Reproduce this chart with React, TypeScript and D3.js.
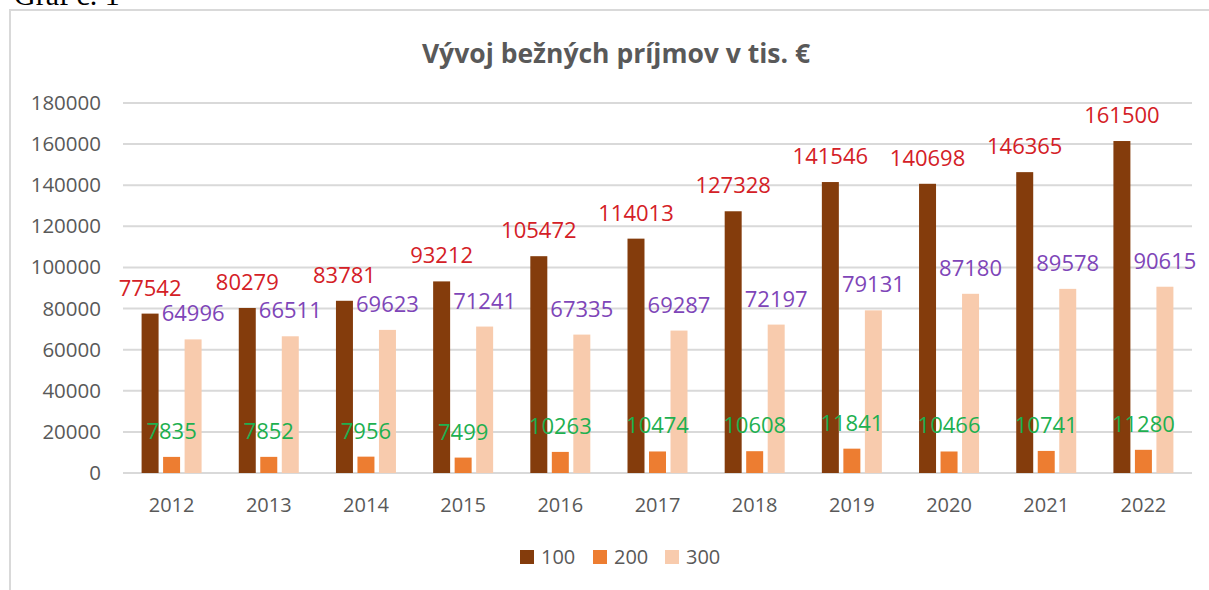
import React from "react";
import * as d3 from "d3";

const years = ["2012", "2013", "2014", "2015", "2016", "2017", "2018", "2019", "2020", "2021", "2022"];
const series = ["100", "200", "300"];
const values100 = [77542, 80279, 83781, 93212, 105472, 114013, 127328, 141546, 140698, 146365, 161500];
const values200 = [7835, 7852, 7956, 7499, 10263, 10474, 10608, 11841, 10466, 10741, 11280];
const values300 = [64996, 66511, 69623, 71241, 67335, 69287, 72197, 79131, 87180, 89578, 90615];
const yTicks = [0, 20000, 40000, 60000, 80000, 100000, 120000, 140000, 160000, 180000];

const barColors = ["#843C0C", "#ED7D31", "#F8CBAD"];
const labelColors = ["#D42026", "#1DB050", "#7E45B8"];

const W = 1209;
const H = 590;
const FONT = "'Open Sans', 'DejaVu Sans', sans-serif";

export default function App() {
  const allValues = [values100, values200, values300];

  const x = d3.scaleBand().domain(years).range([123, 1192]).padding(0);
  const y = d3.scaleLinear().domain([0, 180000]).range([473, 103]);

  // bars inside a year group
  const inner = d3.scaleBand().domain(series).range([-30, 30]).paddingInner(0.21);

  const legendX = [520, 593, 665];

  return (
    <svg width={W} height={H} style={{ position: "absolute", left: 0, top: 0, background: "#fff" }}>
      <text x={14} y={5} fontFamily="'Liberation Serif', serif" fontSize={30} fill="#000">
        Graf č. 1
      </text>

      {/* chart frame, runs off the page on the right and bottom */}
      <rect x={10} y={10} width={1260} height={640} fill="#fff" stroke="#d9d9d9" strokeWidth={2} />

      <text x={616} y={63} textAnchor="middle" fontFamily={FONT} fontWeight="bold" fontSize={26.5} fill="#595959">
        Vývoj bežných príjmov v tis. €
      </text>

      {yTicks.map((t) => (
        <g key={t}>
          <line x1={123} x2={1192} y1={y(t)} y2={y(t)} stroke="#d9d9d9" strokeWidth={2} />
          <text x={101} y={y(t) + 7} textAnchor="end" fontFamily={FONT} fontSize={20.5} fill="#595959">
            {t}
          </text>
        </g>
      ))}

      {years.map((yr, i) => {
        const cx = (x(yr) as number) + x.bandwidth() / 2;
        return (
          <g key={yr}>
            {series.map((s, j) => {
              const v = allValues[j][i];
              const bx = cx + (inner(s) as number);
              return (
                <rect key={s} x={bx} y={y(v)} width={inner.bandwidth()} height={y(0) - y(v)} fill={barColors[j]} />
              );
            })}
            <text x={cx} y={512} textAnchor="middle" fontFamily={FONT} fontSize={20} fill="#595959">
              {yr}
            </text>
          </g>
        );
      })}

      {/* data labels drawn last so they sit above bars */}
      {years.map((yr, i) => {
        const cx = (x(yr) as number) + x.bandwidth() / 2;
        return series.map((s, j) => {
          const v = allValues[j][i];
          const lx = cx + (inner(s) as number) + inner.bandwidth() / 2;
          return (
            <text
              key={yr + s}
              x={lx}
              y={y(v) - 18}
              textAnchor="middle"
              fontFamily={FONT}
              fontSize={22}
              fill={labelColors[j]}
            >
              {v}
            </text>
          );
        });
      })}

      {series.map((s, j) => (
        <g key={s}>
          <rect x={legendX[j]} y={550} width={14} height={14} fill={barColors[j]} />
          <text x={legendX[j] + 21} y={564} fontFamily={FONT} fontSize={20} fill="#595959">
            {s}
          </text>
        </g>
      ))}
    </svg>
  );
}
